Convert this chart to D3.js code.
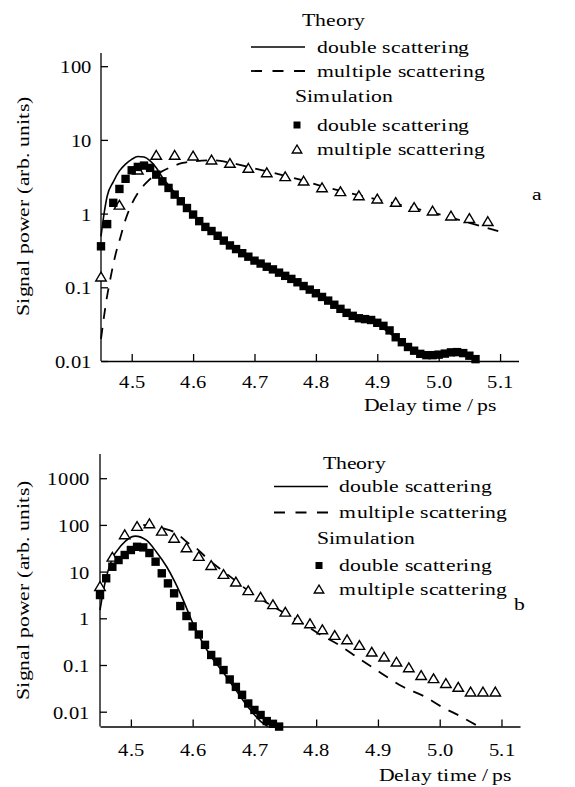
<!DOCTYPE html>
<html>
<head>
<meta charset="utf-8">
<script src="https://cdn.jsdelivr.net/npm/d3@7"></script>
<style>
  @font-face {
    font-family: "FigureSerif";
    src: local("Liberation Serif"), local("LiberationSerif"), local("Liberation Serif Regular"),
         local("Tinos"), local("Tinos-Regular"), local("Times New Roman"), local("TimesNewRomanPSMT"),
         local("Nimbus Roman"), local("NimbusRoman-Regular"), local("DejaVu Serif"), local("DejaVuSerif"),
         local("Noto Serif"), local("NotoSerif-Regular"), local("FreeSerif");
  }
  html, body { margin: 0; padding: 0; background: #fff; }
  svg { display: block; }
  text { fill: #000; }
</style>
</head>
<body>
<svg id="chart" width="575" height="787"></svg>
<script>
// ---------- shared axis ticks ----------
const delayTicks = [4.5, 4.6, 4.7, 4.8, 4.9, 5.0, 5.1];
const delayTickLabels = ["4.5", "4.6", "4.7", "4.8", "4.9", "5.0", "5.1"];
const powerTicksA = [0.01, 0.1, 1, 10, 100];
const powerTickLabelsA = ["0.01", "0.1", "1", "10", "100"];
const powerTicksB = [0.01, 0.1, 1, 10, 100, 1000];
const powerTickLabelsB = ["0.01", "0.1", "1", "10", "100", "1000"];

const legendTitles = ["Theory", "Simulation"];
const seriesNames = ["double scattering", "multiple scattering"];
const yTitle = "Signal power (arb. units)";
const xTitle = "Delay time\u2009/\u2009ps";
const panelNames = ["a", "b"];

// ---------- panel a ----------
const simDoubleTimeA = [4.45, 4.46, 4.47, 4.48, 4.49, 4.50, 4.51, 4.52, 4.53, 4.54, 4.55, 4.56, 4.57, 4.58, 4.59, 4.60,
  4.61, 4.62, 4.63, 4.64, 4.65, 4.66, 4.67, 4.68, 4.69, 4.70, 4.71, 4.72, 4.73, 4.74, 4.75, 4.76, 4.77, 4.78, 4.79, 4.80,
  4.81, 4.82, 4.83, 4.84, 4.85, 4.86, 4.87, 4.88, 4.89, 4.90, 4.91, 4.92, 4.93, 4.94, 4.95, 4.96, 4.97, 4.98, 4.99, 5.00,
  5.01, 5.02, 5.03, 5.04, 5.05, 5.06];
const simDoubleA = [0.36, 0.72, 1.40, 2.16, 2.96, 3.87, 4.30, 4.48, 4.17, 3.38, 2.74, 2.23, 1.81, 1.47, 1.19, 0.97,
  0.79, 0.66, 0.58, 0.50, 0.43, 0.37, 0.33, 0.29, 0.26, 0.23, 0.21, 0.19, 0.175, 0.158, 0.143, 0.130, 0.117, 0.104, 0.093, 0.083,
  0.074, 0.066, 0.058, 0.051, 0.045, 0.041, 0.038, 0.037, 0.036, 0.033, 0.030, 0.026, 0.021, 0.018, 0.0155, 0.0138, 0.0125, 0.0120, 0.0120, 0.0122,
  0.0126, 0.0131, 0.0132, 0.0128, 0.0118, 0.0106];

const simMultiTimeA = [4.45, 4.48, 4.51, 4.54, 4.57, 4.60, 4.63, 4.66, 4.69, 4.72, 4.75, 4.78, 4.81, 4.84, 4.87, 4.90,
  4.93, 4.96, 4.99, 5.02, 5.05, 5.08];
const simMultiA = [0.14, 1.32, 3.95, 6.26, 6.26, 6.12, 5.41, 4.87, 4.17, 3.63, 3.21, 2.80, 2.27, 2.01, 1.77, 1.60,
  1.44, 1.23, 1.10, 0.94, 0.87, 0.79];

const theoryDoubleTimeA = [4.45, 4.455, 4.46, 4.47, 4.48, 4.49, 4.50, 4.51, 4.52, 4.53, 4.54, 4.55, 4.56, 4.58, 4.60, 4.65,
  4.70, 4.75, 4.80, 4.85, 4.88, 4.90, 4.92, 4.95, 4.98, 5.00, 5.03, 5.06];
const theoryDoubleA = [0.49, 1.0, 1.72, 2.7, 3.8, 4.7, 5.45, 5.95, 5.85, 5.2, 4.2, 3.1, 2.45, 1.52, 0.98, 0.42,
  0.225, 0.138, 0.081, 0.044, 0.035, 0.031, 0.024, 0.0152, 0.0117, 0.0119, 0.0129, 0.0104];

const theoryMultiTimeA = [4.45, 4.459, 4.466, 4.473, 4.482, 4.49, 4.501, 4.512, 4.526, 4.545, 4.561, 4.583, 4.602, 4.63,
  4.66, 4.69, 4.72, 4.75, 4.78, 4.81, 4.85, 4.90, 4.96, 5.00, 5.05, 5.098];
const theoryMultiA = [0.020, 0.068, 0.141, 0.264, 0.49, 0.83, 1.40, 2.01, 2.74, 3.57, 4.17, 4.87, 5.13, 5.3,
  4.9, 4.3, 3.75, 3.25, 2.8, 2.35, 1.95, 1.55, 1.19, 0.98, 0.75, 0.575];

// ---------- panel b ----------
const simDoubleTimeB = [4.45, 4.46, 4.47, 4.48, 4.49, 4.50, 4.51, 4.52, 4.53, 4.54, 4.55, 4.56, 4.57, 4.58, 4.59, 4.60,
  4.61, 4.62, 4.63, 4.64, 4.65, 4.66, 4.67, 4.68, 4.69, 4.70, 4.71, 4.72, 4.73, 4.74];
const simDoubleB = [3.15, 7.2, 12.7, 17.7, 22.7, 29, 34, 33, 25, 16.3, 9.2, 5.6, 3.43, 1.83, 1.12, 0.67,
  0.45, 0.27, 0.164, 0.118, 0.078, 0.049, 0.034, 0.023, 0.015, 0.0109, 0.0085, 0.0063, 0.0055, 0.0048];

const simMultiTimeB = [4.45, 4.47, 4.49, 4.51, 4.53, 4.55, 4.57, 4.59, 4.61, 4.63, 4.65, 4.67, 4.69, 4.71, 4.73, 4.75,
  4.77, 4.79, 4.81, 4.83, 4.85, 4.87, 4.89, 4.91, 4.93, 4.95, 4.97, 4.99, 5.01, 5.03, 5.05, 5.07, 5.09];
const simMultiB = [4.9, 20.8, 63, 95, 108, 75, 53, 33, 21.6, 13.8, 8.9, 6.1, 4.0, 2.9, 2.0, 1.38,
  0.95, 0.78, 0.58, 0.44, 0.355, 0.268, 0.193, 0.151, 0.118, 0.089, 0.061, 0.052, 0.041, 0.034, 0.027, 0.027, 0.027];

const theoryDoubleTimeB = [4.45, 4.4585, 4.469, 4.485, 4.507, 4.525, 4.541, 4.558, 4.571, 4.587, 4.598, 4.611, 4.63,
  4.65, 4.67, 4.69, 4.71, 4.722];
const theoryDoubleB = [1.5, 6.1, 17.7, 37, 57.6, 47, 26.7, 12.7, 6.1, 2.09, 0.92, 0.40, 0.15,
  0.068, 0.029, 0.0125, 0.0062, 0.0048];

const theoryMultiTimeB = [4.52, 4.552, 4.574, 4.592, 4.606, 4.625, 4.651, 4.689, 4.74, 4.778, 4.805, 4.837, 4.869,
  4.906, 4.939, 4.976, 5.003, 5.035, 5.062];
const theoryMultiB = [100, 84, 66, 41.5, 31.6, 18.3, 9.9, 4.0, 1.5, 0.78, 0.46, 0.268, 0.139,
  0.066, 0.035, 0.021, 0.0128, 0.0078, 0.0049];

// ---------- drawing ----------
const FAMILY = '"FigureSerif", "Liberation Serif", "DejaVu Serif", serif';
const FONT = 18;
const DASH = "11,9";
const svg = d3.select("#chart").style("font-family", FAMILY);

function squarePath(cx, cy, s) {
  return `M${cx - s / 2},${cy - s / 2}h${s}v${s}h${-s}Z`;
}
function trianglePath(cx, cy, w, h) {
  return `M${cx},${cy - h / 2}L${cx + w / 2},${cy + h / 2}L${cx - w / 2},${cy + h / 2}Z`;
}
function zip(t, v) { return t.map((d, i) => ({ t: d, v: v[i] })); }

function render() {
  svg.selectAll("*").remove();

  // measure once and stretch the lettering horizontally to its printed width
  function naturalWidth(str) {
    const t = svg.append("text").attr("font-family", FAMILY).attr("font-size", FONT).text(str);
    const w = t.node().getComputedTextLength();
    t.remove();
    return w;
  }
  const WORD_STRETCH = (150 + 162) / (naturalWidth(seriesNames[0]) + naturalWidth(seriesNames[1]));
  const DIGIT_STRETCH = 41 / naturalWidth("1000");

  function word(g, x, y, str, anchor, rot) {
    return g.append("text")
      .attr("transform", `translate(${x},${y})` + (rot ? ` rotate(${rot})` : "") + ` scale(${WORD_STRETCH},1)`)
      .attr("text-anchor", anchor || "start")
      .attr("font-family", FAMILY)
      .attr("font-size", FONT)
      .text(str);
  }

  function drawPanel(cfg) {
    const g = svg.append("g");
    const x = d3.scaleLinear().domain([4.45, 5.13]).range([cfg.left, cfg.right]);
    const y = d3.scaleLog().domain(cfg.yDomain).range([cfg.bottom, cfg.top]);

    // axes: ticks point inward
    const ax = g.append("g")
      .attr("transform", `translate(0,${cfg.bottom})`)
      .call(d3.axisBottom(x).tickValues(delayTicks).tickFormat((d, i) => delayTickLabels[i])
        .tickSizeInner(-7).tickSizeOuter(0));
    ax.attr("font-family", FAMILY).attr("font-size", FONT);
    ax.selectAll(".tick text")
      .attr("y", null).attr("dy", null)
      .attr("transform", `translate(0,${cfg.xLabelOffset}) scale(${DIGIT_STRETCH},1)`);

    const ay = g.append("g")
      .attr("transform", `translate(${cfg.left},0)`)
      .call(d3.axisLeft(y).tickValues(cfg.ticks).tickFormat((d, i) => cfg.tickLabels[i])
        .tickSizeInner(-7).tickSizeOuter(0));
    ay.attr("font-family", FAMILY).attr("font-size", FONT);
    ay.selectAll(".tick text")
      .attr("x", null).attr("dy", null)
      .attr("transform", `translate(${-cfg.yPad},6.5) scale(${DIGIT_STRETCH},1)`);

    g.selectAll(".domain, .tick line").attr("stroke", "#000").attr("stroke-width", 1.3);
    ay.select(".domain").attr("d", `M0,${cfg.bottom}V${cfg.top}`);

    // theory curves
    const line = d3.line().x(d => x(d.t)).y(d => y(d.v)).curve(d3.curveMonotoneX);
    g.append("path").datum(zip(cfg.thDoubleT, cfg.thDouble))
      .attr("d", line).attr("fill", "none").attr("stroke", "#000").attr("stroke-width", 1.6);
    g.append("path").datum(zip(cfg.thMultiT, cfg.thMulti))
      .attr("d", line).attr("fill", "none").attr("stroke", "#000").attr("stroke-width", 1.8)
      .attr("stroke-dasharray", DASH);

    // simulation markers
    g.append("g").selectAll("path").data(zip(cfg.simMultiT, cfg.simMulti)).join("path")
      .attr("d", d => trianglePath(x(d.t), y(d.v), 10.5, 8.8))
      .attr("fill", "#fff").attr("stroke", "#000").attr("stroke-width", 1.4);
    g.append("g").selectAll("path").data(zip(cfg.simDoubleT, cfg.simDouble)).join("path")
      .attr("d", d => squarePath(x(d.t), y(d.v), 8.4))
      .attr("fill", "#000");

    // axis titles and panel letter
    word(g, cfg.xTitleRight, cfg.xTitleY, xTitle, "end");
    word(g, cfg.yTitleX, cfg.yTitleY, yTitle, "middle", -90);
    word(g, cfg.letterX, cfg.letterY, cfg.letter, "middle");

    // legend
    const L = cfg.legend;
    word(g, L.titleX[0], L.rows[0], legendTitles[0], "start");
    g.append("line").attr("x1", L.lineX0).attr("x2", L.lineX1)
      .attr("y1", L.rows[1] - 5.5).attr("y2", L.rows[1] - 5.5).attr("stroke", "#000").attr("stroke-width", 1.6);
    word(g, L.textX, L.rows[1], seriesNames[0], "start");
    g.append("line").attr("x1", L.lineX0).attr("x2", L.lineX1)
      .attr("y1", L.rows[2] - 5.5).attr("y2", L.rows[2] - 5.5).attr("stroke", "#000").attr("stroke-width", 1.8)
      .attr("stroke-dasharray", "11,10.5");
    word(g, L.textX, L.rows[2], seriesNames[1], "start");
    word(g, L.titleX[1], L.rows[3], legendTitles[1], "start");
    g.append("path").attr("d", squarePath(L.markX, L.rows[4] - 5.5, 7)).attr("fill", "#000");
    word(g, L.textX, L.rows[4], seriesNames[0], "start");
    g.append("path").attr("d", trianglePath(L.markX, L.rows[5] - 5.5, 9.5, 8))
      .attr("fill", "#fff").attr("stroke", "#000").attr("stroke-width", 1.4);
    word(g, L.textX, L.rows[5], seriesNames[1], "start");
  }

  drawPanel({
    left: 101, right: 518.5, top: 53, bottom: 361,
    yDomain: [0.01, 151], ticks: powerTicksA, tickLabels: powerTickLabelsA, yPad: 9,
    xLabelOffset: 27, xTitleRight: 497, xTitleY: 411,
    yTitleX: 29, yTitleY: 206, letter: panelNames[0], letterX: 537, letterY: 200,
    simDoubleT: simDoubleTimeA, simDouble: simDoubleA,
    simMultiT: simMultiTimeA, simMulti: simMultiA,
    thDoubleT: theoryDoubleTimeA, thDouble: theoryDoubleA,
    thMultiT: theoryMultiTimeA, thMulti: theoryMultiA,
    legend: { titleX: [302, 295], rows: [26, 52.5, 76.5, 101.5, 130.5, 154.5],
              lineX0: 251, lineX1: 305, textX: 317, markX: 297 }
  });

  drawPanel({
    left: 100, right: 520, top: 454, bottom: 726.5,
    yDomain: [0.00482, 3300], ticks: powerTicksB, tickLabels: powerTickLabelsB, yPad: 10,
    xLabelOffset: 29, xTitleRight: 512, xTitleY: 781,
    yTitleX: 29, yTitleY: 590, letter: panelNames[1], letterX: 519, letterY: 610,
    simDoubleT: simDoubleTimeB, simDouble: simDoubleB,
    simMultiT: simMultiTimeB, simMulti: simMultiB,
    thDoubleT: theoryDoubleTimeB, thDouble: theoryDoubleB,
    thMultiT: theoryMultiTimeB, thMulti: theoryMultiB,
    legend: { titleX: [322.7, 317], rows: [468.5, 492, 518, 544, 571, 594.5],
              lineX0: 274, lineX1: 328, textX: 339.3, markX: 319 }
  });
}

render();
// redraw once the local serif face is ready so the text measurements use it
if (document.fonts && document.fonts.load) {
  document.fonts.load(`${FONT}px "FigureSerif"`).then(render).catch(() => {});
}
</script>
</body>
</html>
